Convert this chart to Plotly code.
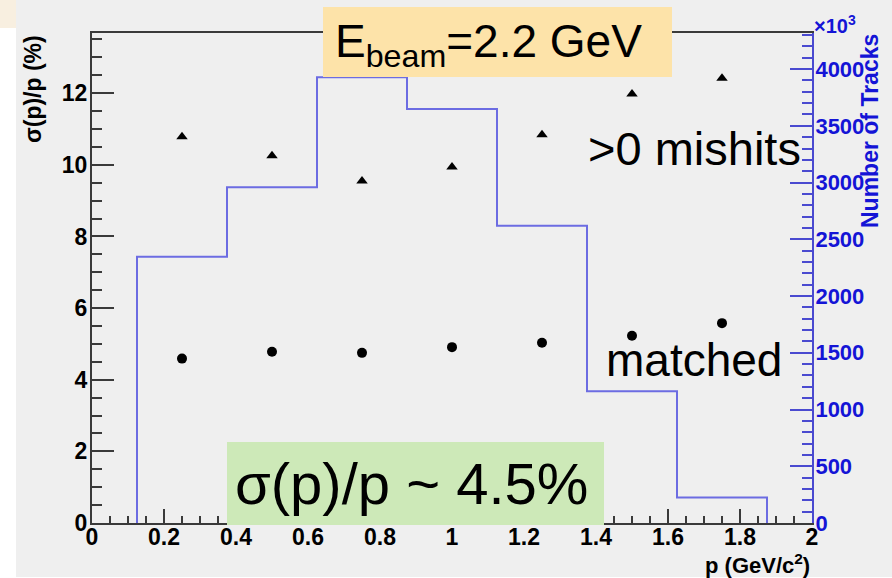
import plotly.graph_objects as go

# Momentum bins (GeV/c) and measured resolution sigma(p)/p in percent
p_centers = [0.25, 0.5, 0.75, 1.0, 1.25, 1.5, 1.75]
res_mishits = [10.78, 10.25, 9.55, 9.94, 10.84, 11.98, 12.42]
res_matched = [4.59, 4.78, 4.75, 4.91, 5.03, 5.23, 5.58]

# Track counts per bin (x10^3)
bin_width = 0.25
track_counts = [2346, 2958, 3928, 3648, 2619, 1161, 224]

x_ticks = [0, 0.2, 0.4, 0.6, 0.8, 1.0, 1.2, 1.4, 1.6, 1.8, 2.0]
x_tick_text = ["0", "0.2", "0.4", "0.6", "0.8", "1", "1.2", "1.4", "1.6", "1.8", "2"]
y_ticks = [0, 2, 4, 6, 8, 10, 12]
y2_ticks = [0, 500, 1000, 1500, 2000, 2500, 3000, 3500, 4000]

FONT = "Liberation Sans, Arial, Helvetica, sans-serif"
BG = "#efefef"
BLUE_TXT = "#1414d6"
BLUE_AX = "#4a4ad0"
HIST = "#6c6ce2"
DARK = "#3a3a3a"

# plot-area geometry in pixels
W_FIG, H_FIG = 892, 578
L, T, PW, PH = 92, 33, 720, 490


def fx(px):
    return (px - L) / PW


def fy(py):
    return (T + PH - py) / PH


# step outline of the histogram, closed down to zero on both ends
lo_edges = [c - bin_width / 2 for c in p_centers]
hist_x = [lo_edges[0]] + lo_edges + [p_centers[-1] + bin_width / 2]
hist_y = [0] + track_counts + [0]

fig = go.Figure()

fig.add_trace(go.Scatter(
    x=hist_x, y=hist_y, mode="lines", line=dict(color=HIST, width=2, shape="hv"),
    yaxis="y2", showlegend=False, hoverinfo="skip",
))
fig.add_trace(go.Scatter(
    x=p_centers, y=res_mishits, mode="markers",
    marker=dict(symbol="triangle-up", size=10, color="black"),
    showlegend=False,
))
fig.add_trace(go.Scatter(
    x=p_centers, y=res_matched, mode="markers",
    marker=dict(symbol="circle", size=10, color="black"),
    showlegend=False,
))

tick_font = dict(family=FONT, size=23, color="black", weight="bold")

fig.update_layout(
    width=W_FIG, height=H_FIG,
    margin=dict(l=L, r=W_FIG - L - PW, t=T, b=H_FIG - T - PH, pad=0),
    paper_bgcolor=BG, plot_bgcolor=BG,
    font=dict(family=FONT),
    xaxis=dict(
        range=[0, 2], tickvals=x_ticks, ticktext=x_tick_text,
        showgrid=False, zeroline=False,
        showline=True, linecolor=DARK, linewidth=2, mirror=True,
        ticks="inside", ticklen=14, tickwidth=1.5, tickcolor=DARK,
        minor=dict(dtick=0.05, ticks="inside", ticklen=7, tickwidth=1.5, tickcolor=DARK),
        tickfont=tick_font, ticklabelstandoff=-8,
    ),
    yaxis=dict(
        range=[0, 13.68], tickvals=y_ticks,
        showgrid=False, zeroline=False,
        showline=True, linecolor=DARK, linewidth=2,
        ticks="inside", ticklen=22, tickwidth=1.5, tickcolor=DARK,
        minor=dict(dtick=0.5, ticks="inside", ticklen=10, tickwidth=1.5, tickcolor=DARK),
        tickfont=tick_font, ticklabelstandoff=-2,
    ),
    yaxis2=dict(
        overlaying="y", side="right", range=[0, 4318], tickvals=y2_ticks,
        showgrid=False, zeroline=False,
        showline=True, linecolor=BLUE_AX, linewidth=2,
        ticks="inside", ticklen=22, tickwidth=1.5, tickcolor=BLUE_AX,
        minor=dict(dtick=100, ticks="inside", ticklen=10, tickwidth=1.5, tickcolor=BLUE_AX),
        tickfont=dict(family=FONT, size=22, color=BLUE_TXT, weight="bold"),
        ticklabelstandoff=-3,
    ),
)

shapes = [
    # left white strip and corner tab
    dict(type="rect", xref="paper", yref="paper", x0=fx(0), x1=fx(16), y0=fy(28), y1=fy(578),
         fillcolor="white", line=dict(width=0), layer="above"),
    dict(type="rect", xref="paper", yref="paper", x0=fx(0), x1=fx(16), y0=fy(0), y1=fy(28),
         fillcolor="#f8efe0", line=dict(width=0), layer="above"),
    dict(type="rect", xref="paper", yref="paper", x0=fx(0), x1=fx(892), y0=fy(577), y1=fy(578),
         fillcolor="white", line=dict(width=0), layer="above"),
    # beam energy label box
    dict(type="rect", xref="paper", yref="paper", x0=fx(323), x1=fx(672), y0=fy(77), y1=fy(7),
         fillcolor="#fde3a9", line=dict(width=0), layer="above"),
    # resolution summary box
    dict(type="rect", xref="paper", yref="paper", x0=fx(227), x1=fx(604), y0=fy(525), y1=fy(442),
         fillcolor="#cde9b8", line=dict(width=0), layer="above"),
]
fig.update_layout(shapes=shapes)

ann = []


def text(t, px, py, size, color="black", bold=False, angle=0, xanchor="center", yanchor="middle"):
    f = dict(family=FONT, size=size, color=color)
    if bold:
        f["weight"] = "bold"
    ann.append(dict(text=t, xref="paper", yref="paper", x=fx(px), y=fy(py),
                    xanchor=xanchor, yanchor=yanchor, showarrow=False, font=f,
                    textangle=angle))


text("E<sub>beam</sub>=2.2 GeV", 488, 44, 46)
text("σ(p)/p ~ 4.5%", 411, 483, 58)
text("&gt;0 mishits", 694, 148, 47)
text("matched", 694, 360, 46)
text("σ(p)/p (%)", 33, 33, 23, bold=True, angle=-90, yanchor="top")
text("Number of Tracks", 870, 32, 23, color=BLUE_TXT, bold=True, angle=-90, yanchor="top")
text("×10<sup>3</sup>", 812, 24, 20, color=BLUE_TXT, bold=True, xanchor="left")
text("p (GeV/c<sup>2</sup>)", 812, 564, 22, bold=True, xanchor="right")

fig.update_layout(annotations=ann)

fig.write_html("out.html")
